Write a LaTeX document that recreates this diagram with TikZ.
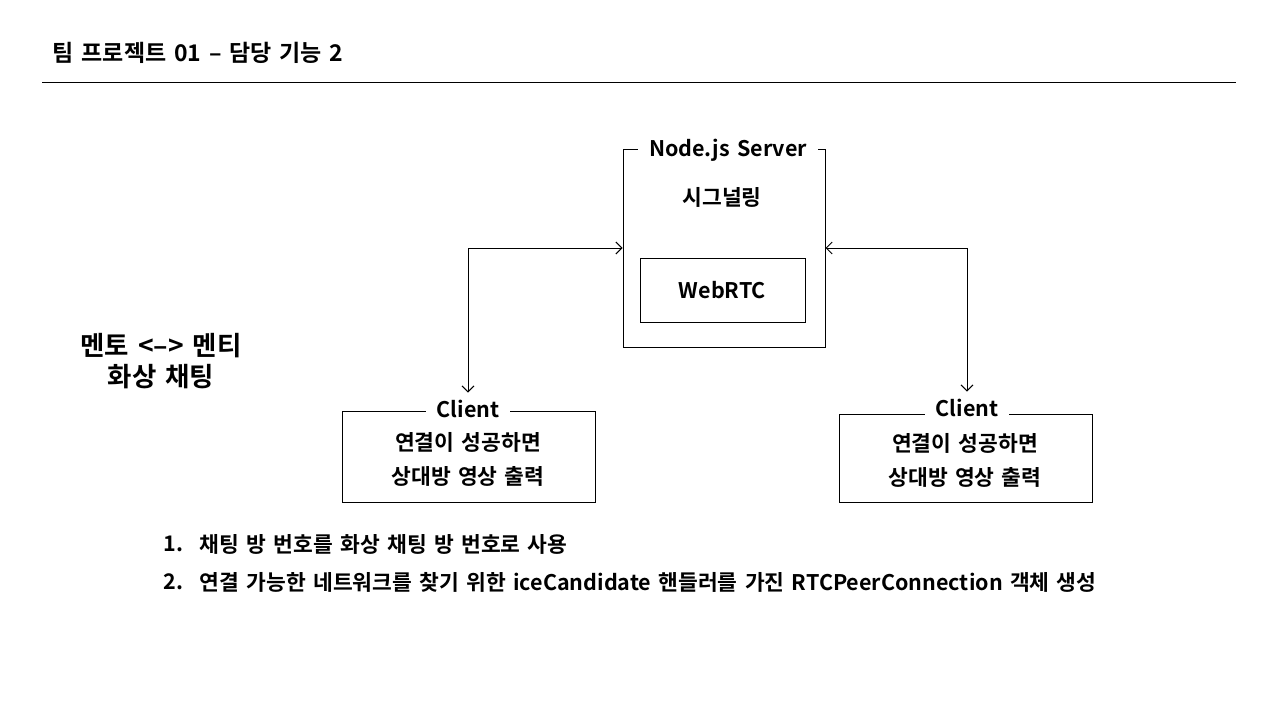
\documentclass[tikz,border=0pt]{standalone}
\usepackage{fontspec}
\setmainfont{Noto Sans CJK KR}[BoldFont={* Bold},WordSpace=1.5]
\usetikzlibrary{arrows,arrows.meta,positioning}

\begin{document}
\begin{tikzpicture}[
                        x=1pt,
                        y=-1pt,
                        >={Straight Barb[length=6pt,width=12pt,line width=1pt]},
                        line width=1pt,
                        font=\bfseries\fontsize{21.5}{26}\selectfont
                    ]
                    \tikzstyle{frame}=[draw=black,fill=white,inner sep=0pt]
                    \tikzstyle{caption}=[fill=white,inner xsep=11pt,inner ysep=1pt]
                    \tikzstyle{link}=[<->,shorten >=6pt]

                    \useasboundingbox (0,0) rectangle (1280,720);

                    % header
                    \node[anchor=west,font=\bfseries\fontsize{23}{28}\selectfont] (title) at (49,53) {팀 프로젝트 01 – 담당 기능 2};
                    \draw (42,82) -- (1236,82);

                    % server
                    \node[frame,minimum width=202pt,minimum height=198pt] (server) at (724,248) {};
                    \node[caption]                 (serverT) at (728,150) {Node.js Server};
                    \node                          (signal)  at (722,197) {시그널링};
                    \node[frame,minimum width=165pt,minimum height=64pt] (webrtc) at (722.5,290) {WebRTC};

                    % clients
                    \node[frame,minimum width=253pt,minimum height=91pt] (clientL) at (468.5,456.5) {};
                    \node[caption]                 (clientLT) at (468,409) {Client};
                    \node                          (clientL1) at (468,442) {연결이 성공하면};
                    \node                          (clientL2) at (468,476) {상대방 영상 출력};

                    \node[frame,minimum width=253pt,minimum height=88pt] (clientR) at (965.5,458) {};
                    \node[caption]                 (clientRT) at (967,408) {Client};
                    \node                          (clientR1) at (965,443) {연결이 성공하면};
                    \node                          (clientR2) at (965,477) {상대방 영상 출력};

                    \draw[link] (server.west) -| (clientLT.north);
                    \draw[link] (server.east) -| (clientRT.north);

                    % mentor
                    \node[align=center,font=\bfseries\fontsize{26.5}{31}\selectfont] (mentor) at (161,361) {멘토 <–> 멘티\\화상 채팅};

                    % notes
                    \node[anchor=west] (num1)  at (160,544) {1.};
                    \node[anchor=west] (note1) at (196,544) {채팅 방 번호를 화상 채팅 방 번호로 사용};
                    \node[anchor=west] (num2)  at (160,582) {2.};
                    \node[anchor=west] (note2) at (196,582) {연결 가능한 네트워크를 찾기 위한 iceCandidate 핸들러를 가진 RTCPeerConnection 객체 생성};

                \end{tikzpicture}
\end{document}
